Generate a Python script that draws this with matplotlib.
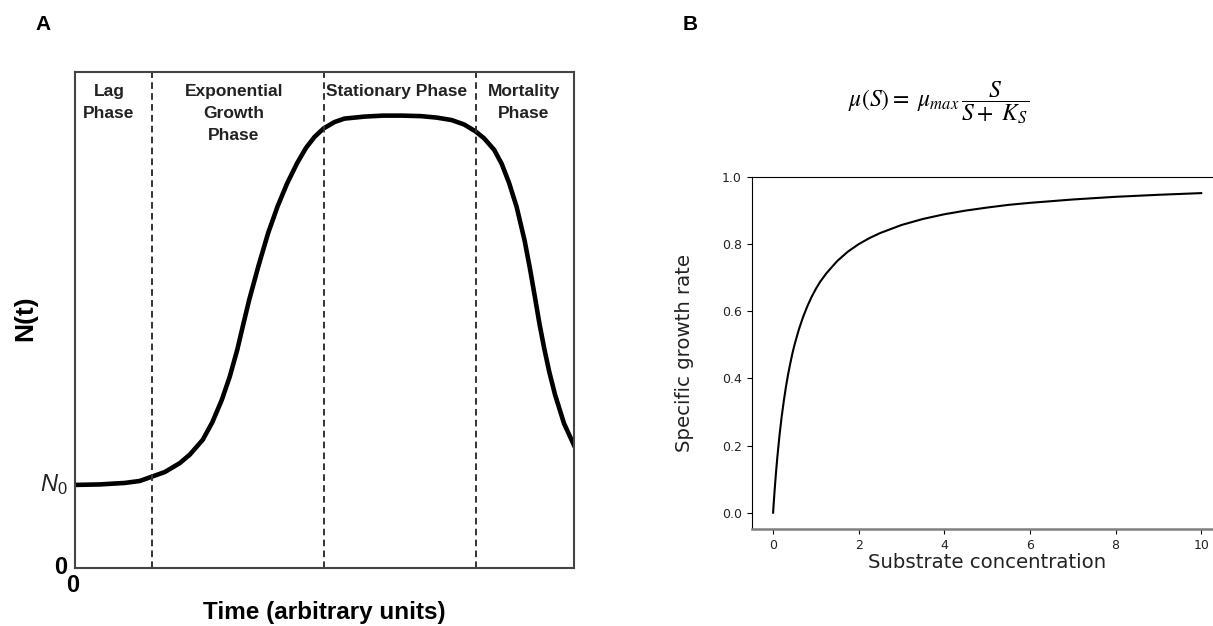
import numpy as np
import matplotlib
matplotlib.use("Agg")
import matplotlib.pyplot as plt

plt.rcParams['mathtext.fontset'] = 'custom'
plt.rcParams['mathtext.rm'] = 'Liberation Sans'
plt.rcParams['mathtext.it'] = 'Liberation Sans:italic'
plt.rcParams['mathtext.bf'] = 'Liberation Sans:bold'

# Panel A: growth curve (time 0-10, N scaled 0-1)
timePts = [0, 0.5, 1.0, 1.3, 1.55, 1.8, 2.1, 2.3, 2.56, 2.75, 2.94, 3.1,
           3.25, 3.37, 3.49, 3.68, 3.87, 4.06, 4.25, 4.45, 4.63, 4.8, 4.98,
           5.2, 5.4, 5.8, 6.17, 6.55, 6.93, 7.25, 7.55, 7.8, 8.03, 8.2, 8.4,
           8.55, 8.7, 8.85, 9.01, 9.12, 9.22, 9.31, 9.4, 9.5, 9.62, 9.8, 10.0]
nPts = [0.167, 0.168, 0.171, 0.175, 0.184, 0.193, 0.211, 0.228, 0.258, 0.293,
        0.338, 0.385, 0.439, 0.490, 0.540, 0.610, 0.675, 0.729, 0.775, 0.816,
        0.847, 0.869, 0.886, 0.899, 0.906, 0.910, 0.912, 0.912, 0.911, 0.908,
        0.903, 0.894, 0.880, 0.866, 0.843, 0.815, 0.776, 0.728, 0.660, 0.602,
        0.544, 0.491, 0.444, 0.397, 0.349, 0.291, 0.247]
phaseEdges = [1.54, 4.99, 8.03]
phaseNames = ["Lag\nPhase", "Exponential\nGrowth\nPhase", "Stationary Phase",
              "Mortality\nPhase"]
phaseLabelX = [0.68, 3.18, 6.45, 8.99]
n0Level = 0.167

# Panel B: Monod curve
substrate = [0, 0.01, 0.02, 0.03, 0.05, 0.07, 0.1, 0.15, 0.2, 0.25, 0.3,
             0.35, 0.4, 0.45, 0.5, 0.6, 0.7, 0.8, 0.9, 1.0, 1.1, 1.25, 1.5,
             1.75, 2, 2.25, 2.5, 3, 3.5, 4, 4.5, 5, 5.5, 6, 7, 8, 9, 10]
growthRate = [0, 0.020, 0.038, 0.057, 0.091, 0.123, 0.167, 0.231, 0.286,
              0.333, 0.375, 0.412, 0.444, 0.474, 0.5, 0.545, 0.583, 0.615,
              0.643, 0.667, 0.688, 0.714, 0.75, 0.778, 0.8, 0.818, 0.833,
              0.857, 0.875, 0.889, 0.9, 0.909, 0.917, 0.923, 0.933, 0.941,
              0.947, 0.952]
xTicksB = [0, 2, 4, 6, 8, 10]
yTicksB = [0.0, 0.2, 0.4, 0.6, 0.8, 1.0]

W, H = 1213, 626
fig = plt.figure(figsize=(W / 100, H / 100), dpi=100)

def pxBox(left, top, right, bottom):
    return [left / W, 1 - bottom / H, (right - left) / W, (bottom - top) / H]

# ---- panel A ----
axA = fig.add_axes(pxBox(75, 72, 574, 567.7))
axA.plot(timePts, nPts, color='black', lw=3.3, solid_joinstyle='round')
for xe in phaseEdges:
    axA.axvline(xe, color='#333333', lw=1.4, dashes=(3.4, 2.2))
for name, xl in zip(phaseNames, phaseLabelX):
    axA.text(xl, 0.975, name, ha='center', va='top', fontsize=12.5,
             fontweight='bold', family='Liberation Sans', color='#222222',
             linespacing=1.55)
axA.set_xlim(0, 10)
axA.set_ylim(0, 1)
axA.set_xticks([])
axA.set_yticks([])
for sp in axA.spines.values():
    sp.set_color('#444444')
    sp.set_linewidth(1.5)
axA.text(-0.015, n0Level, r'$N_0$', transform=axA.transAxes, ha='right',
         va='center', fontsize=17, color='#222222')
axA.text(-0.015, 0.0, '0', transform=axA.transAxes, ha='right', va='center',
         fontsize=17, fontweight='bold', family='Liberation Sans')
axA.text(-0.004, -0.035, '0', transform=axA.transAxes, ha='center', va='center',
         fontsize=17, fontweight='bold', family='Liberation Sans')
fig.text(25 / W, 1 - 318 / H, 'N(t)', rotation=90, ha='center', va='center',
         fontsize=19, fontweight='bold', family='Liberation Sans')
fig.text(324 / W, 1 - 612 / H, 'Time (arbitrary units)', ha='center',
         va='center', fontsize=17.5, fontweight='bold', family='Liberation Sans')
fig.text(43 / W, 1 - 25 / H, 'A', ha='center', va='center', fontsize=15,
         fontweight='bold', family='Liberation Sans')

# ---- panel B ----
axB = fig.add_axes(pxBox(751.7, 177, 1222.6, 529))
axB.plot(substrate, growthRate, color='black', lw=1.5)
axB.set_xlim(-0.5, 10.5)
axB.set_ylim(-0.0486, 1.0)
axB.set_xticks(xTicksB)
axB.set_yticks(yTicksB)
axB.tick_params(labelsize=9, colors='black', labelcolor='#222222')
axB.spines['bottom'].set_color('#808080')
axB.spines['bottom'].set_linewidth(1.8)
axB.spines['right'].set_visible(False)
axB.set_xlabel('Substrate concentration', fontsize=14.2, labelpad=1,
               color='#222222')
axB.set_ylabel('Specific growth rate', fontsize=14.2, labelpad=20,
               color='#222222')
fig.text(939 / W, 1 - 103 / H, r'$\mu(S) =\ \mu_{max}\,\dfrac{S}{S +\ K_S}$',
         ha='center', va='center', fontsize=17, math_fontfamily='stix')
fig.text(690 / W, 1 - 25 / H, 'B', ha='center', va='center', fontsize=15,
         fontweight='bold', family='Liberation Sans')

fig.savefig('out.png', dpi=100)
